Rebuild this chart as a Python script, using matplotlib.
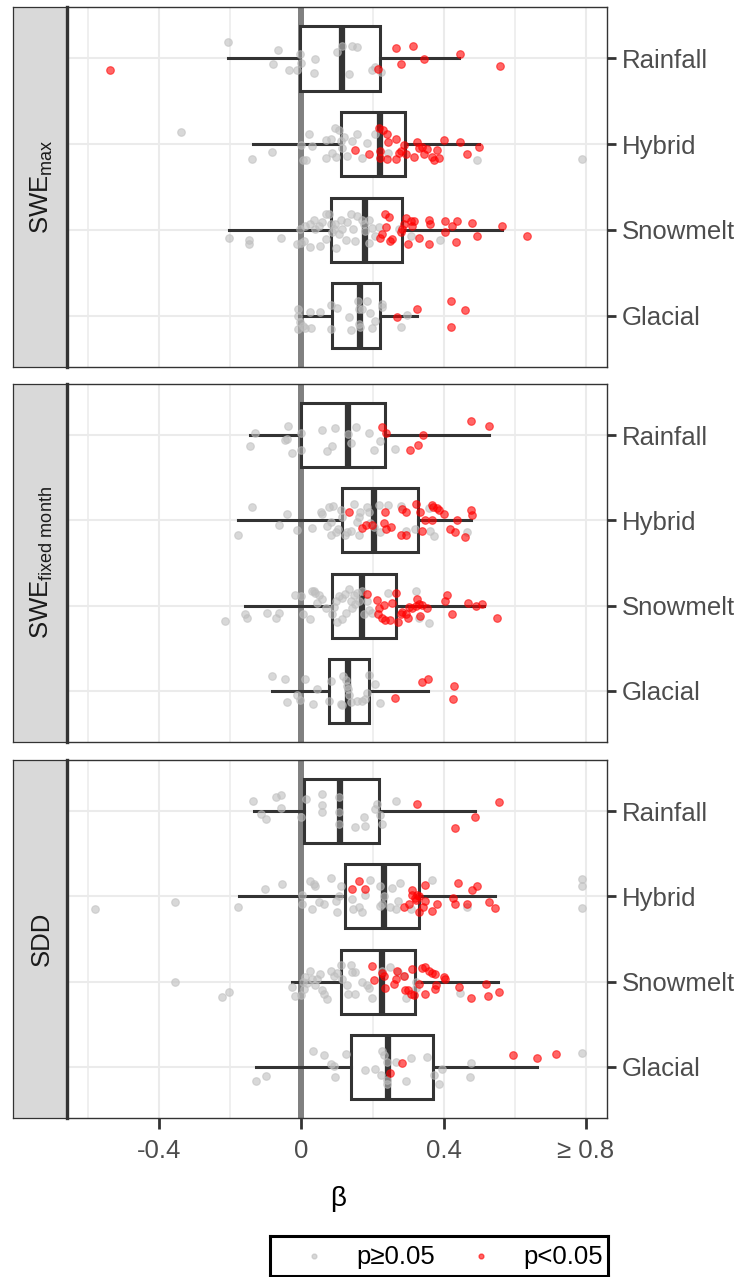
import matplotlib
matplotlib.use("Agg")
import matplotlib.pyplot as plt

plt.rcParams['font.family'] = ['Liberation Sans', 'DejaVu Sans']
plt.rcParams['mathtext.fontset'] = 'custom'
plt.rcParams['mathtext.rm'] = 'Liberation Sans'
plt.rcParams['mathtext.it'] = 'Liberation Sans:italic'

# ---------------- data ----------------
CATEGORIES = ['Rainfall', 'Hybrid', 'Snowmelt', 'Glacial']
PANEL_LABELS = ['SWE$_{\\mathrm{max}}$', 'SWE$_{\\mathrm{fixed\\ month}}$', 'SDD']
XTICKS = [-0.4, 0.0, 0.4, 0.8]
XTICK_LABELS = ['-0.4', '0', '0.4', '\u2265 0.8']
XMINOR = [-0.6, -0.2, 0.2, 0.6]
LEGEND_LABELS = ['p\u22650.05', 'p<0.05']

# box stats per category: (whisker low, q1, median, q3, whisker high)
SWEMAX_BOX = [(-0.206, -0.003, 0.114, 0.220, 0.443),
              (-0.137, 0.110, 0.220, 0.291, 0.499),
              (-0.203, 0.082, 0.178, 0.283, 0.565),
              (-0.008, 0.086, 0.166, 0.222, 0.324)]
SWEFIX_BOX = [(-0.144, 0.000, 0.131, 0.236, 0.529),
              (-0.178, 0.113, 0.205, 0.327, 0.478),
              (-0.158, 0.086, 0.169, 0.266, 0.513),
              (-0.083, 0.077, 0.131, 0.191, 0.356)]
SDD_BOX = [(-0.134, 0.007, 0.108, 0.218, 0.488),
           (-0.176, 0.122, 0.232, 0.332, 0.544),
           (-0.028, 0.110, 0.227, 0.319, 0.553),
           (-0.128, 0.138, 0.243, 0.370, 0.663)]

# points: (beta, jitter offset) ; NS = p>=0.05 (grey), SIG = p<0.05 (red)
SWEMAX_RAINFALL_NS = [(-0.206, -0.19), (-0.067, -0.10), (-0.081, 0.07), (-0.034, 0.14), (-0.012, 0.14),
                      (-0.003, -0.05), (0.0, 0.05), (0.037, 0.01), (0.036, 0.17), (0.100, -0.07),
                      (0.114, -0.14), (0.141, -0.14), (0.157, -0.13), (0.133, 0.18), (0.199, 0.14),
                      (0.206, 0.10), (0.224, 0.16)]
SWEMAX_RAINFALL_SIG = [(0.215, 0.12), (0.267, -0.12), (0.315, -0.14), (0.280, 0.07), (0.344, 0.01),
                       (0.445, -0.05), (0.558, 0.09), (-0.54, 0.13)]
SWEMAX_HYBRID_NS = [(-0.139, 0.17), (-0.083, 0.09), (0.004, 0.19), (0.013, 0.19), (0.021, -0.12),
                    (0.030, 0.02), (0.0, 0.01), (0.068, -0.05), (0.068, 0.16), (0.082, -0.06),
                    (0.086, 0.10), (0.094, -0.19), (0.096, 0.15), (0.105, -0.16), (0.110, -0.04),
                    (0.114, 0.04), (0.119, -0.08), (0.129, 0.14), (0.143, -0.04), (0.157, -0.12),
                    (0.171, 0.16), (0.185, -0.01), (0.206, -0.12), (0.244, 0.10), (0.494, 0.19),
                    (-0.338, -0.14), (0.79, 0.17)]
SWEMAX_HYBRID_SIG = [(0.150, 0.07), (0.191, 0.12), (0.218, -0.19), (0.230, -0.17), (0.241, -0.12),
                     (0.244, -0.02), (0.265, -0.06), (0.220, 0.08), (0.222, 0.16), (0.241, 0.17),
                     (0.265, 0.17), (0.274, 0.10), (0.279, 0.08), (0.288, 0.01), (0.293, 0.12),
                     (0.316, 0.15), (0.326, -0.02), (0.330, 0.05), (0.340, 0.03), (0.344, 0.12),
                     (0.354, 0.06), (0.366, 0.15), (0.372, 0.19), (0.382, 0.07), (0.388, 0.16),
                     (0.401, -0.05), (0.445, -0.02), (0.466, 0.11), (0.499, 0.03)]
SWEMAX_SNOWMELT_NS = [(-0.205, 0.10), (-0.148, 0.12), (-0.148, 0.17), (-0.059, 0.10), (-0.012, 0.17),
                      (0.0, 0.15), (0.007, 0.13), (0.023, 0.20), (-0.003, -0.01), (0.011, -0.05),
                      (0.025, -0.07), (0.035, -0.12), (0.039, -0.01), (0.049, -0.05), (0.051, 0.19),
                      (0.058, -0.09), (0.068, -0.18), (0.068, 0.11), (0.077, -0.18), (0.082, -0.07),
                      (0.086, 0.03), (0.091, -0.01), (0.094, -0.07), (0.096, 0.21), (0.105, 0.05),
                      (0.110, -0.12), (0.114, -0.01), (0.124, 0.12), (0.129, -0.09), (0.138, -0.18),
                      (0.144, -0.01), (0.152, 0.13), (0.157, -0.16), (0.171, -0.12), (0.175, -0.07),
                      (0.180, 0.01), (0.189, -0.12), (0.191, 0.15), (0.199, -0.02), (0.208, 0.07),
                      (0.218, -0.03), (0.274, -0.01), (0.307, 0.07), (0.391, 0.12)]
SWEMAX_SNOWMELT_SIG = [(0.236, -0.18), (0.246, -0.15), (0.238, -0.03), (0.222, 0.10), (0.227, 0.05),
                       (0.250, 0.13), (0.255, 0.11), (0.283, -0.01), (0.281, 0.03), (0.288, -0.07),
                       (0.295, -0.14), (0.300, 0.16), (0.307, -0.10), (0.311, -0.05), (0.316, -0.10),
                       (0.330, 0.09), (0.358, -0.11), (0.363, -0.07), (0.360, 0.16), (0.405, 0.02),
                       (0.403, -0.10), (0.424, -0.05), (0.438, -0.10), (0.435, 0.14), (0.480, -0.08),
                       (0.494, 0.07), (0.565, -0.05), (0.635, 0.07)]
SWEMAX_GLACIAL_NS = [(-0.009, -0.08), (-0.009, 0.0), (-0.009, 0.16), (-0.003, 0.08), (0.004, 0.12),
                     (0.009, 0.14), (0.023, -0.04), (0.028, 0.15), (0.051, -0.04), (0.082, -0.12),
                     (0.084, 0.16), (0.100, -0.09), (0.133, 0.02), (0.138, 0.17), (0.159, -0.17),
                     (0.161, -0.08), (0.161, 0.10), (0.166, 0.13), (0.171, -0.08), (0.185, -0.17),
                     (0.194, -0.03), (0.199, 0.14), (0.208, 0.06), (0.227, -0.14), (0.227, -0.10),
                     (0.281, 0.13), (0.297, -0.01)]
SWEMAX_GLACIAL_SIG = [(0.269, 0.02), (0.324, -0.08), (0.422, -0.17), (0.459, -0.07), (0.422, 0.13)]

SWEFIX_RAINFALL_NS = [(-0.144, 0.13), (-0.131, -0.02), (-0.045, 0.06), (-0.040, 0.04), (-0.038, -0.11),
                      (-0.028, 0.21), (0.0, -0.03), (0.0, 0.17), (0.058, -0.06), (0.072, 0.19),
                      (0.086, 0.13), (0.093, -0.08), (0.131, -0.01), (0.138, 0.09), (0.154, -0.10),
                      (0.189, -0.03), (0.204, 0.17), (0.220, 0.07), (0.263, 0.16)]
SWEFIX_RAINFALL_SIG = [(0.227, -0.10), (0.238, -0.03), (0.305, 0.17), (0.328, 0.12), (0.341, 0.0),
                       (0.477, -0.17), (0.529, -0.11)]
SWEFIX_HYBRID_NS = [(-0.178, 0.17), (-0.139, -0.16), (-0.062, 0.05), (-0.042, -0.07), (-0.012, 0.11),
                    (0.030, 0.09), (0.056, -0.10), (0.058, -0.07), (0.072, 0.07), (0.077, -0.16),
                    (0.082, 0.02), (0.088, -0.17), (0.084, 0.17), (0.096, 0.14), (0.103, 0.10),
                    (0.110, -0.12), (0.114, -0.04), (0.122, 0.17), (0.129, 0.14), (0.138, 0.13),
                    (0.147, -0.19), (0.157, 0.02), (0.161, -0.04), (0.166, -0.10), (0.161, 0.17),
                    (0.185, -0.16), (0.191, -0.10), (0.194, 0.03), (0.204, 0.08), (0.218, -0.18),
                    (0.222, 0.14), (0.244, -0.18), (0.281, -0.17), (0.295, 0.12), (0.319, 0.10),
                    (0.358, -0.14), (0.363, 0.13), (0.372, 0.18), (0.466, 0.14)]
SWEFIX_HYBRID_SIG = [(0.133, -0.10), (0.169, 0.09), (0.182, 0.05), (0.199, 0.05), (0.232, 0.03),
                     (0.236, -0.10), (0.238, 0.10), (0.253, 0.08), (0.279, 0.17), (0.283, -0.13),
                     (0.293, 0.17), (0.295, -0.10), (0.321, -0.19), (0.335, -0.10), (0.340, 0.13),
                     (0.349, -0.01), (0.368, -0.18), (0.370, -0.16), (0.368, -0.01), (0.382, -0.14),
                     (0.388, -0.12), (0.401, -0.07), (0.419, 0.10), (0.432, 0.14), (0.438, -0.01),
                     (0.460, 0.19), (0.478, -0.12), (0.480, -0.06)]
SWEFIX_SNOWMELT_NS = [(-0.214, 0.18), (-0.159, 0.10), (-0.153, 0.15), (-0.097, 0.09), (-0.073, 0.14),
                      (-0.062, 0.09), (-0.019, -0.13), (0.0, -0.11), (0.004, 0.10), (0.025, 0.16),
                      (0.030, -0.17), (0.035, -0.17), (0.039, -0.15), (0.044, -0.03), (0.049, -0.12),
                      (0.058, -0.08), (0.068, 0.03), (0.086, 0.10), (0.091, 0.02), (0.096, -0.06),
                      (0.100, 0.19), (0.107, -0.11), (0.113, 0.16), (0.114, -0.09), (0.122, -0.14),
                      (0.126, 0.09), (0.133, -0.19), (0.138, -0.06), (0.143, 0.03), (0.147, -0.13),
                      (0.152, -0.02), (0.157, -0.15), (0.161, -0.06), (0.171, -0.17), (0.175, 0.10),
                      (0.185, -0.06), (0.189, 0.05), (0.199, 0.09), (0.244, -0.15), (0.321, -0.17),
                      (0.332, 0.14), (0.358, 0.20)]
SWEFIX_SNOWMELT_SIG = [(0.185, -0.14), (0.213, -0.07), (0.218, 0.03), (0.215, 0.10), (0.227, 0.14),
                       (0.232, -0.01), (0.236, 0.17), (0.250, 0.17), (0.255, -0.03), (0.265, -0.15),
                       (0.272, 0.19), (0.279, 0.10), (0.283, 0.07), (0.293, 0.10), (0.300, 0.14),
                       (0.302, 0.02), (0.311, 0.03), (0.321, 0.01), (0.326, -0.08), (0.330, -0.02),
                       (0.335, 0.12), (0.340, -0.01), (0.354, 0.03), (0.405, -0.06), (0.410, -0.12),
                       (0.424, 0.10), (0.469, -0.03), (0.490, 0.0), (0.508, -0.02), (0.551, 0.14)]
SWEFIX_GLACIAL_NS = [(-0.084, -0.17), (-0.045, -0.14), (-0.040, 0.13), (-0.012, 0.05), (-0.003, 0.11),
                     (0.011, -0.14), (0.032, 0.15), (0.044, -0.02), (0.077, 0.12), (0.084, -0.12),
                     (0.110, 0.15), (0.114, 0.17), (0.116, -0.18), (0.124, -0.13), (0.129, -0.06),
                     (0.131, -0.02), (0.135, 0.05), (0.138, 0.13), (0.157, 0.12), (0.171, 0.12),
                     (0.180, 0.10), (0.185, 0.03), (0.191, -0.19), (0.206, -0.08), (0.220, 0.14)]
SWEFIX_GLACIAL_SIG = [(0.262, 0.08), (0.338, -0.10), (0.356, -0.14), (0.429, -0.06), (0.427, 0.09)]

SDD_RAINFALL_NS = [(-0.137, -0.12), (-0.115, 0.03), (-0.101, 0.09), (-0.073, -0.17), (-0.057, -0.19),
                   (-0.059, -0.04), (0.0, 0.07), (0.013, -0.14), (0.058, -0.20), (0.058, -0.07),
                   (0.058, 0.01), (0.107, -0.17), (0.107, 0.01), (0.107, 0.15), (0.150, 0.19),
                   (0.175, 0.07), (0.178, 0.18), (0.206, -0.02), (0.213, -0.08), (0.222, 0.05),
                   (0.227, 0.15), (0.265, -0.12)]
SDD_RAINFALL_SIG = [(0.326, -0.08), (0.432, 0.20), (0.488, 0.07), (0.555, -0.11)]
SDD_HYBRID_NS = [(-0.178, 0.12), (-0.103, -0.09), (-0.054, -0.14), (0.002, -0.02), (0.002, 0.09),
                 (0.025, -0.18), (0.030, 0.15), (0.035, -0.14), (0.039, -0.12), (0.049, 0.07),
                 (0.063, 0.09), (0.084, -0.21), (0.098, 0.05), (0.100, 0.18), (0.107, -0.01),
                 (0.110, -0.12), (0.143, 0.03), (0.144, 0.15), (0.163, 0.13), (0.171, 0.18),
                 (0.178, -0.02), (0.194, -0.19), (0.222, -0.12), (0.222, 0.11), (0.227, 0.09),
                 (0.232, 0.0), (0.250, 0.12), (0.255, -0.10), (0.265, 0.15), (0.272, 0.05),
                 (0.276, -0.16), (0.307, 0.15), (0.368, -0.19), (0.466, 0.12), (-0.58, 0.15),
                 (-0.357, 0.07), (0.79, -0.20), (0.79, -0.12), (0.79, 0.14)]
SDD_HYBRID_SIG = [(0.143, -0.09), (0.161, -0.18), (0.178, -0.09), (0.288, 0.12), (0.302, 0.09),
                  (0.310, -0.07), (0.311, -0.02), (0.319, 0.02), (0.321, 0.04), (0.326, -0.02),
                  (0.330, 0.0), (0.332, 0.18), (0.341, 0.12), (0.349, -0.13), (0.349, 0.05),
                  (0.366, 0.17), (0.382, 0.09), (0.426, 0.02), (0.432, 0.09), (0.441, -0.16),
                  (0.466, 0.09), (0.480, -0.07), (0.494, -0.12), (0.527, 0.07), (0.544, 0.14)]
SDD_SNOWMELT_NS = [(-0.225, 0.18), (-0.203, 0.12), (-0.028, 0.06), (-0.017, 0.17), (0.0, 0.16),
                   (0.004, 0.0), (0.007, 0.09), (0.011, -0.05), (0.016, 0.02), (0.025, -0.13),
                   (0.030, -0.03), (0.039, 0.04), (0.044, -0.03), (0.053, -0.09), (0.058, 0.10),
                   (0.063, 0.14), (0.072, 0.20), (0.082, -0.12), (0.091, -0.07), (0.100, -0.10),
                   (0.110, -0.19), (0.114, -0.03), (0.129, 0.04), (0.131, 0.15), (0.138, -0.19),
                   (0.143, -0.11), (0.152, -0.11), (0.152, 0.15), (0.171, 0.0), (0.185, 0.04),
                   (0.191, 0.07), (0.199, 0.19), (0.227, -0.13), (0.250, -0.17), (0.272, -0.11),
                   (0.288, -0.07), (0.293, 0.19), (0.321, 0.08), (0.323, 0.0), (0.447, 0.13),
                   (-0.355, 0.0)]
SDD_SNOWMELT_SIG = [(0.199, -0.18), (0.204, -0.02), (0.227, -0.10), (0.232, -0.07), (0.236, 0.08),
                    (0.260, 0.03), (0.265, -0.03), (0.269, -0.12), (0.288, -0.07), (0.291, 0.10),
                    (0.300, 0.10), (0.307, 0.14), (0.311, -0.15), (0.316, 0.16), (0.332, 0.03),
                    (0.338, -0.16), (0.347, -0.17), (0.349, 0.14), (0.358, -0.13), (0.366, -0.10),
                    (0.375, 0.09), (0.377, -0.09), (0.379, 0.04), (0.401, -0.05), (0.403, -0.03),
                    (0.443, 0.06), (0.478, 0.19), (0.520, 0.03), (0.525, 0.17), (0.555, 0.12)]
SDD_GLACIAL_NS = [(-0.129, 0.17), (-0.099, 0.11), (0.032, -0.19), (0.063, -0.14), (0.082, -0.03),
                  (0.091, -0.01), (0.094, 0.12), (0.124, -0.15), (0.178, 0.04), (0.206, 0.02),
                  (0.225, 0.10), (0.227, -0.19), (0.232, -0.14), (0.241, -0.06), (0.241, 0.16),
                  (0.241, 0.20), (0.265, -0.06), (0.295, 0.17), (0.307, -0.10), (0.354, -0.12),
                  (0.372, 0.10), (0.388, 0.20), (0.396, 0.03), (0.473, 0.12), (0.478, -0.05),
                  (0.79, -0.16)]
SDD_GLACIAL_SIG = [(0.248, 0.07), (0.283, -0.05), (0.596, -0.14), (0.663, -0.10), (0.716, -0.15)]

# ---------------- assemble ----------------
PANELS = [
    (SWEMAX_BOX, [(SWEMAX_RAINFALL_NS, SWEMAX_RAINFALL_SIG), (SWEMAX_HYBRID_NS, SWEMAX_HYBRID_SIG),
                  (SWEMAX_SNOWMELT_NS, SWEMAX_SNOWMELT_SIG), (SWEMAX_GLACIAL_NS, SWEMAX_GLACIAL_SIG)]),
    (SWEFIX_BOX, [(SWEFIX_RAINFALL_NS, SWEFIX_RAINFALL_SIG), (SWEFIX_HYBRID_NS, SWEFIX_HYBRID_SIG),
                  (SWEFIX_SNOWMELT_NS, SWEFIX_SNOWMELT_SIG), (SWEFIX_GLACIAL_NS, SWEFIX_GLACIAL_SIG)]),
    (SDD_BOX, [(SDD_RAINFALL_NS, SDD_RAINFALL_SIG), (SDD_HYBRID_NS, SDD_HYBRID_SIG),
               (SDD_SNOWMELT_NS, SDD_SNOWMELT_SIG), (SDD_GLACIAL_NS, SDD_GLACIAL_SIG)]),
]

W, H = 746, 1277
fig = plt.figure(figsize=(W / 100, H / 100), dpi=100)


def rect(x0, y0, x1, y1):
    return [x0 / W, 1 - y1 / H, (x1 - x0) / W, (y1 - y0) / H]


PANEL_Y = [(7, 367), (384, 742), (760, 1118)]
PANEL_X = (67, 607)
STRIP_X0 = 13

GREY = '#BEBEBE'
RED = '#FF0000'
DARK = '#333333'
GRID = '#EBEBEB'
FS = 18.5
PT_SIZE = 30

for i, ((boxes, groups), (y0, y1)) in enumerate(zip(PANELS, PANEL_Y)):
    # strip
    sax = fig.add_axes(rect(STRIP_X0, y0, PANEL_X[0], y1))
    sax.set_facecolor('#D9D9D9')
    sax.set_xticks([])
    sax.set_yticks([])
    for s in sax.spines.values():
        s.set_color(DARK)
        s.set_linewidth(0.9)
    sax.text(0.53, 0.5, PANEL_LABELS[i], rotation=90, ha='center', va='center',
             fontsize=FS, color='#1A1A1A', transform=sax.transAxes)

    ax = fig.add_axes(rect(PANEL_X[0], y0, PANEL_X[1], y1))
    ax.set_xlim(-0.66, 0.86)
    ax.set_ylim(4.6, 0.4)
    ax.set_xticks(XTICKS)
    ax.set_xticks(XMINOR, minor=True)
    ax.grid(which='major', axis='both', color=GRID, linewidth=1.5, zorder=0)
    ax.grid(which='minor', axis='x', color=GRID, linewidth=1.1, zorder=0)
    ax.set_axisbelow(True)
    ax.axvline(0, color='#808080', linewidth=4.3, zorder=1)

    stats = []
    for (wl, q1, med, q3, wh) in boxes:
        stats.append(dict(whislo=wl, q1=q1, med=med, q3=q3, whishi=wh, fliers=[]))
    kw = dict(positions=[1, 2, 3, 4], widths=0.75, showfliers=False, showcaps=False,
              patch_artist=True,
              boxprops=dict(facecolor='white', edgecolor=DARK, linewidth=2.2),
              medianprops=dict(color=DARK, linewidth=4.5, solid_capstyle='butt'),
              whiskerprops=dict(color=DARK, linewidth=2.2), zorder=2)
    try:
        ax.bxp(stats, orientation='horizontal', **kw)
    except TypeError:
        ax.bxp(stats, vert=False, **kw)

    for k, (ns, sig) in enumerate(groups):
        ax.scatter([b for b, _ in ns], [k + 1 + j for _, j in ns], s=PT_SIZE, color=GREY,
                   edgecolors=GREY, linewidths=0.8, alpha=0.6, zorder=3)
        ax.scatter([b for b, _ in sig], [k + 1 + j for _, j in sig], s=PT_SIZE, color=RED,
                   edgecolors=RED, linewidths=0.8, alpha=0.6, zorder=4)

    ax.set_yticks(range(1, 5))
    ax.set_yticklabels(CATEGORIES)
    ax.yaxis.tick_right()
    ax.tick_params(axis='y', which='major', left=False, right=True, length=6.5, width=2,
                   color=DARK, labelsize=FS, labelcolor='#4D4D4D', pad=4)
    ax.tick_params(axis='x', which='minor', length=0)
    if i == 2:
        ax.set_xticklabels(XTICK_LABELS)
        ax.tick_params(axis='x', which='major', length=8, width=2, color=DARK,
                       labelsize=FS, labelcolor='#4D4D4D', pad=7)
    else:
        ax.tick_params(axis='x', which='major', bottom=False, labelbottom=False)
    for name, s in ax.spines.items():
        s.set_color(DARK)
        s.set_linewidth(1.0)
    ax.spines['left'].set_linewidth(2.4)

fig.text(338 / W, 1 - 1199 / H, '\u03b2', ha='center', va='center', fontsize=20, color='black')

# legend box
lax = fig.add_axes(rect(270, 1236, 608, 1276))
lax.set_xlim(270, 608)
lax.set_ylim(1276, 1236)
lax.set_xticks([])
lax.set_yticks([])
for s in lax.spines.values():
    s.set_color('black')
    s.set_linewidth(2.2)
lax.scatter([314], [1256], s=12, color=GREY, alpha=0.6)
lax.scatter([481], [1256], s=12, color=RED, alpha=0.6)
lax.text(356, 1257, LEGEND_LABELS[0], ha='left', va='center', fontsize=FS, color='black')
lax.text(523, 1257, LEGEND_LABELS[1], ha='left', va='center', fontsize=FS, color='black')

fig.savefig('out.png', dpi=100, facecolor='white')
